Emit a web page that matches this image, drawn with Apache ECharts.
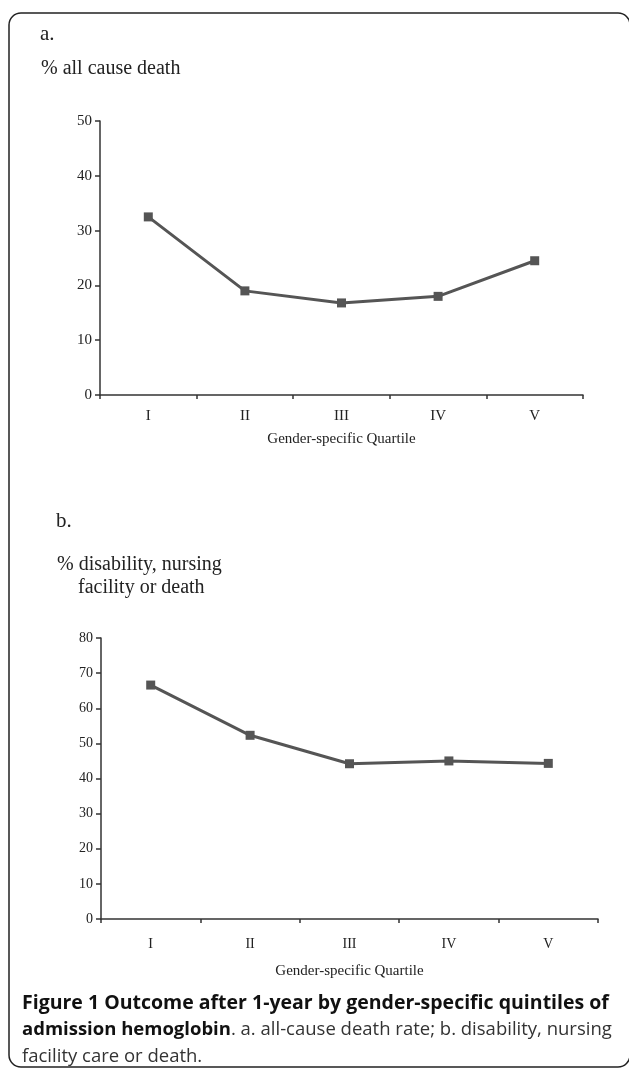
<!DOCTYPE html>
<html>
<head>
<meta charset="utf-8">
<script src="https://cdn.jsdelivr.net/npm/echarts@6/dist/echarts.min.js"></script>
<style>
html,body{margin:0;padding:0;background:#fff;}
#c{width:629px;height:1073px;}
</style>
</head>
<body>
<div id="c"></div>
<script>
const categories = ['I', 'II', 'III', 'IV', 'V'];
const deathPct = [32.5, 19.0, 16.8, 18.0, 24.5];
const disabilityPct = [66.6, 52.3, 44.2, 45.0, 44.3];
const yTicksA = [0, 10, 20, 30, 40, 50];
const yTicksB = [0, 10, 20, 30, 40, 50, 60, 70, 80];
const xAxisTitle = 'Gender-specific Quartile';

const SERIF = '"Liberation Serif","DejaVu Serif",serif';
const SANS = '"Open Sans","Noto Sans",sans-serif';
const AX = '#333';
const LINE = '#555';

function yAxis(grid, ticks, fs) {
  return {
    type: 'value', gridIndex: grid,
    min: ticks[0], max: ticks[ticks.length - 1], interval: ticks[1] - ticks[0],
    axisLine: {show: true, lineStyle: {color: AX, width: 1.5}},
    axisTick: {show: true, length: 5, lineStyle: {color: AX, width: 1.5}},
    axisLabel: {fontFamily: SERIF, fontSize: fs, color: '#222', margin: 8},
    splitLine: {show: false}
  };
}
function xAxis(grid, fs, labelMargin, nameGap) {
  return {
    type: 'category', gridIndex: grid, data: categories, boundaryGap: true,
    axisLine: {show: true, lineStyle: {color: AX, width: 1.5}},
    axisTick: {show: true, length: 4, alignWithLabel: false, lineStyle: {color: AX, width: 1.5}},
    axisLabel: {fontFamily: SERIF, fontSize: fs, color: '#222', margin: labelMargin},
    name: xAxisTitle, nameLocation: 'middle', nameGap: nameGap,
    nameTextStyle: {fontFamily: SERIF, fontSize: 15, color: '#222'}
  };
}
function series(idx, data) {
  return {
    type: 'line', xAxisIndex: idx, yAxisIndex: idx, data: data,
    symbol: 'rect', symbolSize: 9, showSymbol: true,
    lineStyle: {color: LINE, width: 3},
    itemStyle: {color: LINE},
    emphasis: {disabled: true}, animation: false
  };
}

const chart = echarts.init(document.getElementById('c'), null, {renderer: 'canvas'});
chart.setOption({
  animation: false,
  grid: [
    {left: 100, top: 121, width: 483, height: 274},
    {left: 101, top: 638, width: 497, height: 281}
  ],
  xAxis: [xAxis(0, 15, 14, 37), xAxis(1, 14, 18, 45)],
  yAxis: [yAxis(0, yTicksA, 15), yAxis(1, yTicksB, 14)],
  series: [series(0, deathPct), series(1, disabilityPct)],
  graphic: [
    {type: 'rect', shape: {x: 9, y: 13, width: 621, height: 1054, r: 12},
     style: {fill: null, stroke: '#222', lineWidth: 1.5}, silent: true},
    {type: 'text', x: 40, y: 34, style: {text: 'a.', font: '21px ' + SERIF, fill: '#222', verticalAlign: 'middle'}},
    {type: 'text', x: 41, y: 69, style: {text: '% all cause death', font: '20px ' + SERIF, fill: '#222', verticalAlign: 'middle'}},
    {type: 'text', x: 56, y: 521, style: {text: 'b.', font: '21px ' + SERIF, fill: '#222', verticalAlign: 'middle'}},
    {type: 'text', x: 57, y: 565, style: {text: '% disability, nursing', font: '20px ' + SERIF, fill: '#222', verticalAlign: 'middle'}},
    {type: 'text', x: 78, y: 588, style: {text: 'facility or death', font: '20px ' + SERIF, fill: '#222', verticalAlign: 'middle'}},
    {type: 'text', x: 22, y: 990, style: {
      text: '{b1|Figure 1 Outcome after 1-year by gender-specific quintiles of}\n{b|admission hemoglobin}{r|. a. all-cause death rate; b. disability, nursing}\n{r|facility care or death.}',
      rich: {
        b1: {fontFamily: SANS, fontSize: 19.5, fontWeight: 'bold', fill: '#111', lineHeight: 26.5},
        b: {fontFamily: SANS, fontSize: 18.5, fontWeight: 'bold', fill: '#111', lineHeight: 26.5},
        r: {fontFamily: SANS, fontSize: 18.5, fill: '#333', lineHeight: 26.5}
      }
    }}
  ]
});
</script>
</body>
</html>
